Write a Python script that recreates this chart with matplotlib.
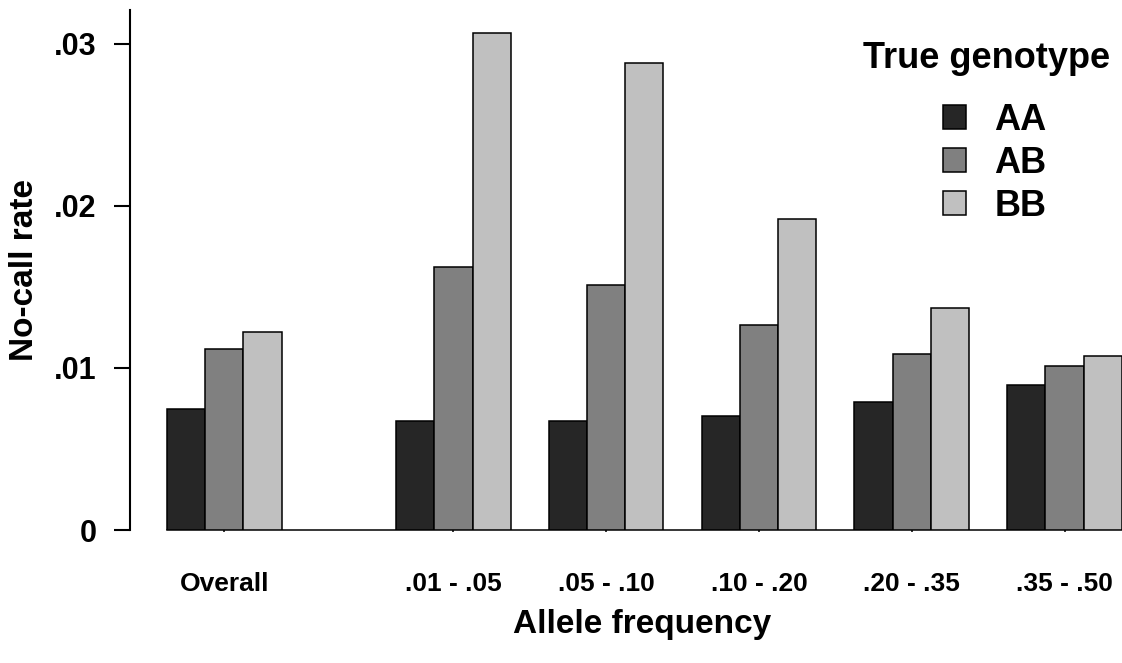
import matplotlib
matplotlib.use("Agg")
import matplotlib.pyplot as plt
import numpy as np

plt.rcParams['font.family'] = ['Liberation Sans', 'DejaVu Sans']
plt.rcParams['font.weight'] = 'bold'

# data
categories = ['Overall', '.01 - .05', '.05 - .10', '.10 - .20', '.20 - .35', '.35 - .50']
genotypes = ['AA', 'AB', 'BB']
rate_AA = [0.00749, 0.00675, 0.00673, 0.00706, 0.00792, 0.00897]
rate_AB = [0.01117, 0.01623, 0.01508, 0.01265, 0.01086, 0.01012]
rate_BB = [0.01222, 0.03066, 0.02878, 0.01918, 0.01372, 0.01074]
y_ticks = [0, 0.01, 0.02, 0.03]
y_ticklabels = ['0', '.01', '.02', '.03']

colors = ['#262626', '#808080', '#c0c0c0']
width = 0.25
W, H = 1122, 663

fig = plt.figure(figsize=(W / 100, H / 100), dpi=100)
ax = fig.add_axes([129.5 / W, 133 / H, 992.5 / W, 520.5 / H])

n = len(categories)
# gap of half a group after "Overall"
x = np.arange(n) + 0.5 * (np.arange(n) > 0)

for i, (vals, col, lab) in enumerate(zip([rate_AA, rate_AB, rate_BB], colors, genotypes)):
    ax.bar(x + (i - 1) * width, vals, width, color=col, edgecolor='black',
           linewidth=1.1, label=lab, zorder=3)

ax.set_xlim(-0.620, 5.876)
ax.set_ylim(0, 0.0321)

ax.spines['top'].set_visible(False)
ax.spines['right'].set_visible(False)
ax.spines['left'].set_linewidth(1.5)
ax.spines['bottom'].set_linewidth(1.1)
ax.spines['bottom'].set_bounds(x[0] - 1.5 * width, 5.876)

ax.set_yticks(y_ticks)
ax.set_yticklabels(y_ticklabels, fontsize=22, fontweight='bold')
ax.tick_params(axis='y', length=11.5, width=1.5, pad=12)

ax.set_xticks(x)
ax.set_xticklabels(categories, fontsize=19, fontweight='bold')
ax.tick_params(axis='x', length=1.5, width=1.1, pad=29)

ax.set_xlabel('Allele frequency', fontsize=24, fontweight='bold')
ax.xaxis.set_label_coords((642 - 129.5) / 992.5, (530 - 609) / 520.5)
ax.set_ylabel('No-call rate', fontsize=24, fontweight='bold')
ax.yaxis.set_label_coords((40 - 129.5) / 992.5, 0.5)

# legend title drawn on its own so the gap to the entries can match
fig.text(986.5 / W, 1 - 68 / H, 'True genotype', fontsize=26, fontweight='bold',
         ha='center', va='baseline')
leg = ax.legend(frameon=False, fontsize=26,
                handlelength=0.64, handleheight=0.64, handletextpad=0.78,
                labelspacing=0.22, loc='upper left', borderpad=0, borderaxespad=0,
                bbox_to_anchor=(943 / W, 1 - 103 / H), bbox_transform=fig.transFigure)
for h in leg.legend_handles:
    h.set_linewidth(1.1)

fig.savefig('out.png', dpi=100)
